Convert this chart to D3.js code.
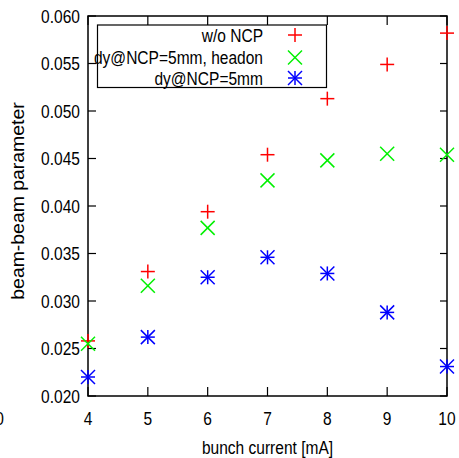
<!DOCTYPE html>
<html><head><meta charset="utf-8">
<script src="https://cdn.jsdelivr.net/npm/d3@7"></script>
<style>
body{margin:0;background:#fff;}
text{font-family:"Liberation Sans",Arial,Helvetica,sans-serif;fill:#000;}
</style></head><body>
<script>
const current = [4, 5, 6, 7, 8, 9, 10];
const woNCP = [0.0258, 0.0331, 0.0394, 0.0454, 0.0513, 0.0549, 0.0582];
const headon = [0.0255, 0.0316, 0.0377, 0.0427, 0.0448, 0.0455, 0.0454];
const dy5mm = [0.0220, 0.0262, 0.0325, 0.0346, 0.0329, 0.0288, 0.0231];
const xTicks = [4, 5, 6, 7, 8, 9, 10];
const yTicks = [0.020, 0.025, 0.030, 0.035, 0.040, 0.045, 0.050, 0.055, 0.060];
const seriesNames = ["w/o NCP", "dy@NCP=5mm, headon", "dy@NCP=5mm"];

const W = 459, H = 458;
const L = 88, R = 447, T = 16, B = 396;
const svg = d3.select("body").append("svg").attr("width", W).attr("height", H);
const x = d3.scaleLinear().domain([4, 10]).range([L, R]);
const y = d3.scaleLinear().domain([0.020, 0.060]).range([B, T]);
const fs = 18.5;

function label(px, py, str, anchor, rot, sx) {
  sx = sx || 0.84;
  return svg.append("text")
    .attr("transform", `translate(${px},${py})${rot ? " rotate(" + rot + ")" : ""} scale(${sx},1)`)
    .attr("text-anchor", anchor).attr("font-size", fs).text(str);
}

// ticks
const g = svg.append("g").attr("stroke", "#000").attr("stroke-width", 1.2);
xTicks.forEach(t => {
  g.append("line").attr("x1", x(t)).attr("x2", x(t)).attr("y1", B).attr("y2", B - 9);
  g.append("line").attr("x1", x(t)).attr("x2", x(t)).attr("y1", T).attr("y2", T + 9);
});
yTicks.forEach(t => {
  g.append("line").attr("x1", L).attr("x2", L + 8).attr("y1", y(t)).attr("y2", y(t));
  g.append("line").attr("x1", R).attr("x2", R - 7).attr("y1", y(t)).attr("y2", y(t));
});
svg.append("rect").attr("x", L).attr("y", T).attr("width", R - L).attr("height", B - T)
  .attr("fill", "none").attr("stroke", "#000").attr("stroke-width", 1.5);

// tick labels
xTicks.forEach(t => label(x(t), 425, d3.format("d")(t), "middle"));
yTicks.forEach(t => label(80, y(t) + 6.5, d3.format(".3f")(t), "end"));
label(4, 425, "0", "end");

// axis titles
label((L + R) / 2, 454, "bunch current [mA]", "middle");
label(24, 201, "beam-beam parameter", "middle", -90, 1.05);

// markers
const s = 7;
function plus(gg, cx, cy, c) {
  gg.append("line").attr("x1", cx - s).attr("x2", cx + s).attr("y1", cy).attr("y2", cy).attr("stroke", c);
  gg.append("line").attr("x1", cx).attr("x2", cx).attr("y1", cy - s).attr("y2", cy + s).attr("stroke", c);
}
function cross(gg, cx, cy, c) {
  gg.append("line").attr("x1", cx - s).attr("x2", cx + s).attr("y1", cy - s).attr("y2", cy + s).attr("stroke", c);
  gg.append("line").attr("x1", cx - s).attr("x2", cx + s).attr("y1", cy + s).attr("y2", cy - s).attr("stroke", c);
}
function star(gg, cx, cy, c) { plus(gg, cx, cy, c); cross(gg, cx, cy, c); }
const series = [
  {vals: woNCP, color: "#ff0000", f: plus},
  {vals: headon, color: "#00f000", f: cross},
  {vals: dy5mm, color: "#0000ff", f: star}
];
const mg = svg.append("g").attr("stroke-width", 1.5);
series.forEach(sr => {
  current.forEach((c, i) => sr.f(mg, x(c), y(sr.vals[i]), sr.color));
});

// legend
svg.append("rect").attr("x", 97.5).attr("y", 25).attr("width", 229).attr("height", 62.5)
  .attr("fill", "#fff").attr("stroke", "#000").attr("stroke-width", 1.2);
const lg = svg.append("g").attr("stroke-width", 1.5);
const rows = [35, 57.5, 78];
series.forEach((sr, i) => {
  label(263, rows[i] + 6.5, seriesNames[i], "end");
  sr.f(lg, 295, rows[i], sr.color);
});
</script>
</body></html>
